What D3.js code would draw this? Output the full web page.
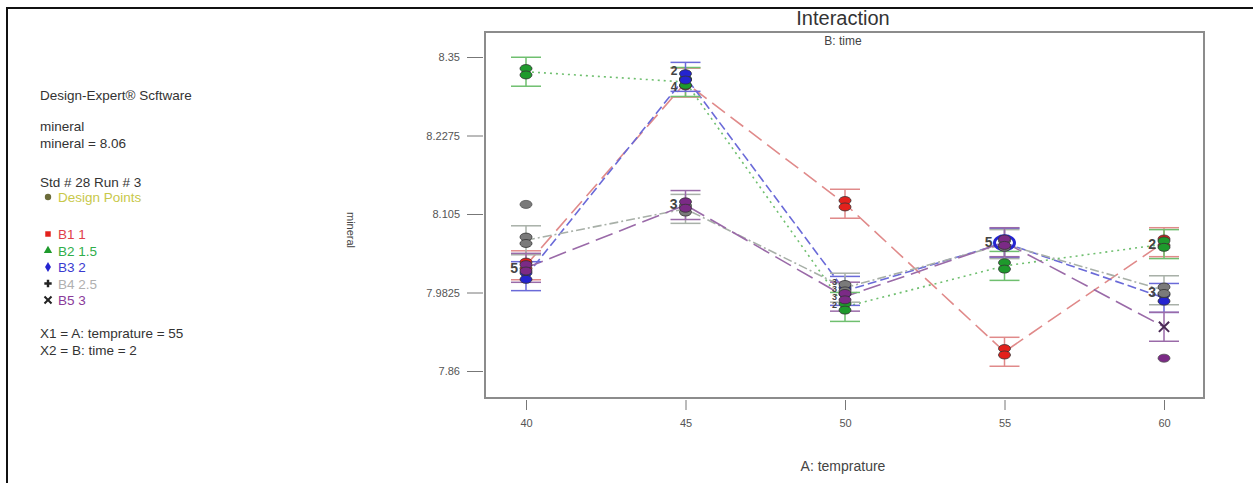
<!DOCTYPE html>
<html>
<head>
<meta charset="utf-8">
<script src="https://cdn.jsdelivr.net/npm/d3@7"></script>
<style>
body{margin:0;background:#fff;font-family:"Liberation Sans",Arial,sans-serif;}
svg text{font-family:"Liberation Sans",Arial,sans-serif;}
</style>
</head>
<body>
<div id="chart"></div>
<script>
// temperature levels (x) and the five time levels (series)
var temps = [40, 45, 50, 55, 60];
var seriesNames = ["B1 1", "B2 1.5", "B3 2", "B4 2.5", "B5 3"];
var b1 = [8.025, 8.310, 8.121, 7.890, 8.061];
var b2 = [8.327, 8.311, 7.960, 8.024, 8.058];
var b3 = [8.008, 8.319, 7.985, 8.060, 7.974];
var b4 = [8.064, 8.113, 7.990, 8.058, 7.986];
var b5 = [8.021, 8.119, 7.976, 8.061, 7.929];
var lsdHalf = 0.0226;

// extra design points
var dpTemp = [40, 60];
var dpValue = [8.120, 7.880];
var dpSeries = [3, 4];

// replicate counts written beside points
var cntTemp = [40, 45, 45, 45, 50, 50, 50, 50, 55, 60, 60];
var cntValue = [8.021, 8.328, 8.304, 8.121, 8.000, 7.988, 7.976, 7.964, 8.062, 8.058, 7.984];
var cntText = ["5", "2", "4", "3", "3", "3", "3", "2", "5", "2", "3"];

var yTicks = [7.86, 7.9825, 8.105, 8.2275, 8.35];
var xTicks = [40, 45, 50, 55, 60];

var legendLines = ["Design-Expert\u00ae Scftware", "mineral", "mineral = 8.06", "Std # 28 Run # 3"];

var colors = ["#e3211c", "#1e9a2c", "#2424d0", "#7a7a7a", "#7b2a86"];
var lineColors = ["#e08a8a", "#6fbf6f", "#6a6ad8", "#a8b0a8", "#9a6aa8"];
var textColors = ["#e0404a", "#2fae4a", "#3a3ad0", "#b0b0b0", "#8a3a9a"];
var dashes = ["16,7", "2,4", "9,4", "9,3,2,3", "18,7"];
var shapes = [d3.symbolSquare, d3.symbolTriangle, d3.symbolDiamond, d3.symbolCross, d3.symbolX];

var allSeries = [b1, b2, b3, b4, b5];

var W = 1253, H = 483;
var svg = d3.select("#chart").append("svg").attr("width", W).attr("height", H);

// outer page border
svg.append("path").attr("d", "M7,483 L7,8 L1253,8").attr("fill", "none")
    .attr("stroke", "#111").attr("stroke-width", 2);

var x = d3.scaleLinear().domain([40, 60]).range([526, 1164]);
var y = d3.scaleLinear().domain([7.86, 8.35]).range([371, 57]);

// frame
svg.append("rect").attr("x", 485).attr("y", 32).attr("width", 719).attr("height", 366)
    .attr("fill", "none").attr("stroke", "#8c8c8c").attr("stroke-width", 2);

// axes
var yAxis = svg.append("g").attr("transform", "translate(483,0)")
    .call(d3.axisLeft(y).tickValues(yTicks).tickSize(16).tickPadding(7).tickFormat(function(d){return String(d);}));
yAxis.select(".domain").remove();
yAxis.selectAll("line").attr("stroke", "#777");
yAxis.selectAll("text").attr("fill", "#555").style("font-size", "11px");

var xAxis = svg.append("g").attr("transform", "translate(0,400)")
    .call(d3.axisBottom(x).tickValues(xTicks).tickSize(10).tickPadding(9));
xAxis.select(".domain").remove();
xAxis.selectAll("line").attr("stroke", "#777");
xAxis.selectAll("text").attr("fill", "#555").style("font-size", "11px");

// titles
svg.append("text").attr("x", 843).attr("y", 25).attr("text-anchor", "middle")
    .style("font-size", "20px").attr("fill", "#333").text("Interaction");
svg.append("text").attr("x", 843).attr("y", 45).attr("text-anchor", "middle")
    .style("font-size", "12px").attr("fill", "#444").text("B: time");
svg.append("text").attr("x", 843).attr("y", 471).attr("text-anchor", "middle")
    .style("font-size", "14px").attr("fill", "#444").text("A: temprature");
svg.append("text").attr("transform", "translate(347,230) rotate(90)").attr("text-anchor", "middle")
    .style("font-size", "11px").attr("fill", "#444").text("mineral");

// lines
var line = d3.line().x(function(d, i){return x(temps[i]);}).y(function(d){return y(d);});
allSeries.forEach(function(s, k){
    svg.append("path").attr("d", line(s)).attr("fill", "none")
        .attr("stroke", lineColors[k]).attr("stroke-width", 1.6)
        .attr("stroke-dasharray", dashes[k]);
});

// error bars
allSeries.forEach(function(s, k){
    var g = svg.append("g");
    s.forEach(function(v, i){
        var cx = x(temps[i]);
        g.append("line").attr("x1", cx).attr("x2", cx).attr("y1", y(v - lsdHalf)).attr("y2", y(v + lsdHalf))
            .attr("stroke", lineColors[k]).attr("stroke-width", 1.5);
        [v - lsdHalf, v + lsdHalf].forEach(function(e){
            g.append("line").attr("x1", cx - 15).attr("x2", cx + 15).attr("y1", y(e)).attr("y2", y(e))
                .attr("stroke", lineColors[k]).attr("stroke-width", 1.5);
        });
    });
});

// mean markers drawn as stacked design-point ovals
function oval(cx, cy, col){
    svg.append("ellipse").attr("cx", cx).attr("cy", cy - 3.2).attr("rx", 6).attr("ry", 4)
        .attr("fill", col).attr("stroke", "#333").attr("stroke-width", 0.8);
    svg.append("ellipse").attr("cx", cx).attr("cy", cy + 3.2).attr("rx", 6).attr("ry", 4)
        .attr("fill", col).attr("stroke", "#333").attr("stroke-width", 0.8);
}
allSeries.forEach(function(s, k){
    s.forEach(function(v, i){
        if (k == 4 && i == 4) {
            svg.append("path").attr("transform", "translate(" + x(temps[i]) + "," + y(v) + ")")
                .attr("d", d3.symbol().type(d3.symbolX).size(70)()).attr("stroke", "#4a2a55").attr("stroke-width", 2);
        } else if (k == 2 && i == 3) {
            svg.append("ellipse").attr("cx", x(temps[i])).attr("cy", y(v)).attr("rx", 10).attr("ry", 7)
                .attr("fill", "none").attr("stroke", colors[k]).attr("stroke-width", 3);
            svg.append("ellipse").attr("cx", x(temps[i])).attr("cy", y(v)).attr("rx", 4).attr("ry", 2)
                .attr("fill", "none").attr("stroke", colors[k]).attr("stroke-width", 1.5);
        } else {
            oval(x(temps[i]), y(v), colors[k]);
        }
    });
});

dpTemp.forEach(function(t, i){
    svg.append("ellipse").attr("cx", x(t)).attr("cy", y(dpValue[i])).attr("rx", 6).attr("ry", 4)
        .attr("fill", colors[dpSeries[i]]).attr("stroke", "#555").attr("stroke-width", 0.8);
});

// replicate count labels (tight stacks use a smaller size)
cntTemp.forEach(function(t, i){
    var size = (t == 50) ? 9 : (t == 45 && cntValue[i] > 8.2 ? 12 : 14);
    var off = (t == 55) ? 12 : 8;
    svg.append("text").attr("x", x(t) - off).attr("y", y(cntValue[i]) + size * 0.36).attr("text-anchor", "end")
        .style("font-size", size + "px").style("font-weight", "bold").attr("fill", "#444").text(cntText[i]);
});

// left legend
var lg = svg.append("g").style("font-size", "13.5px");
lg.append("text").attr("x", 40).attr("y", 100).attr("fill", "#333").text(legendLines[0]);
lg.append("text").attr("x", 40).attr("y", 131).attr("fill", "#333").text(legendLines[1]);
lg.append("text").attr("x", 40).attr("y", 148).attr("fill", "#333").text(legendLines[2]);
lg.append("text").attr("x", 40).attr("y", 187).attr("fill", "#333").text(legendLines[3]);
lg.append("circle").attr("cx", 48).attr("cy", 197).attr("r", 3.2).attr("fill", "#6b6b3a");
lg.append("text").attr("x", 58).attr("y", 202).attr("fill", "#c8c84a").text("Design Points");

seriesNames.forEach(function(n, k){
    var yy = 234 + k * 16.5;
    lg.append("path").attr("transform", "translate(48," + yy + ")")
        .attr("d", d3.symbol().type(shapes[k]).size(k == 4 ? 34 : 30)())
        .attr("fill", k == 3 ? "#222" : (k == 4 ? "none" : colors[k]))
        .attr("stroke", k == 4 ? "#222" : "none").attr("stroke-width", 2);
    lg.append("text").attr("x", 58).attr("y", yy + 5).attr("fill", textColors[k]).text(n);
});

lg.append("text").attr("x", 40).attr("y", 338).attr("fill", "#333").text("X1 = A: temprature = 55");
lg.append("text").attr("x", 40).attr("y", 355).attr("fill", "#333").text("X2 = B: time = 2");
</script>
</body>
</html>
